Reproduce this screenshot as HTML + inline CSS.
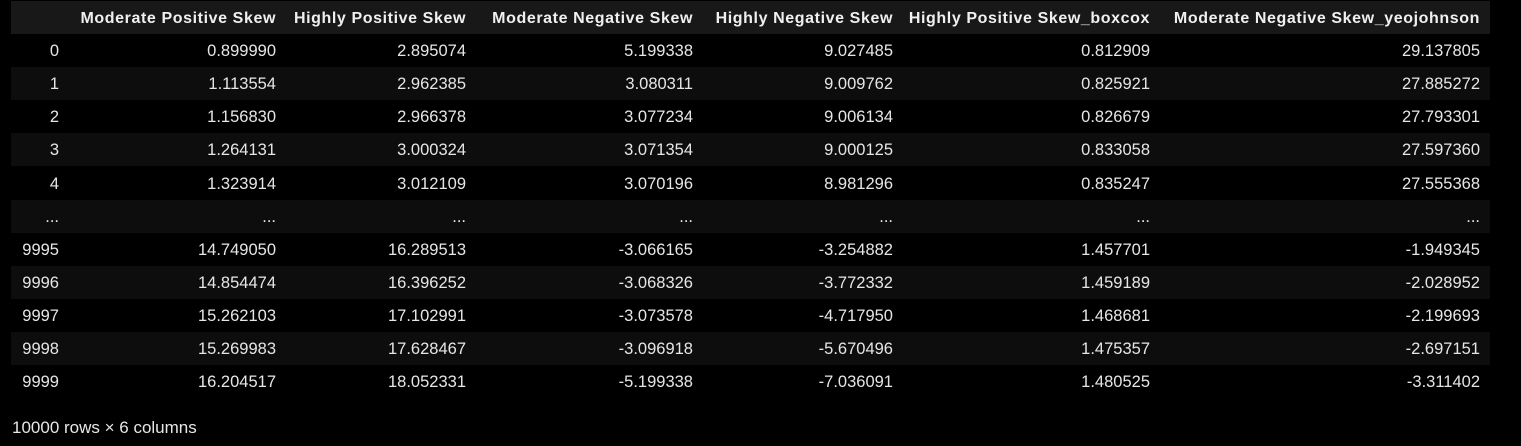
<!DOCTYPE html>
<html><head><meta charset="utf-8"><style>
html,body{margin:0;padding:0;background:#000;width:1521px;height:446px;overflow:hidden}
body{font-family:"Liberation Sans",sans-serif;color:#e6e6e6;font-size:16.5px}
table{position:absolute;left:11px;top:1px;border-collapse:collapse;table-layout:fixed}
td,th{height:33.1px;padding:2px 10px 0 0;text-align:right;white-space:nowrap;box-sizing:border-box}
th{font-weight:bold;color:#f0f0f0;font-size:16px;letter-spacing:0.6px}
thead tr{background:#181818}
tbody tr:nth-child(even){background:#0d0d0d}
#foot{position:absolute;left:12px;top:418px;font-size:17px;color:#e6e6e6}
</style></head><body>
<table>
<colgroup><col style="width:58px"><col style="width:217px"><col style="width:190px"><col style="width:227px"><col style="width:200px"><col style="width:257px"><col style="width:330px"></colgroup>
<thead><tr><th></th><th>Moderate Positive Skew</th><th>Highly Positive Skew</th><th>Moderate Negative Skew</th><th>Highly Negative Skew</th><th>Highly Positive Skew_boxcox</th><th>Moderate Negative Skew_yeojohnson</th></tr></thead>
<tbody>
<tr><td>0</td><td>0.899990</td><td>2.895074</td><td>5.199338</td><td>9.027485</td><td>0.812909</td><td>29.137805</td></tr>
<tr><td>1</td><td>1.113554</td><td>2.962385</td><td>3.080311</td><td>9.009762</td><td>0.825921</td><td>27.885272</td></tr>
<tr><td>2</td><td>1.156830</td><td>2.966378</td><td>3.077234</td><td>9.006134</td><td>0.826679</td><td>27.793301</td></tr>
<tr><td>3</td><td>1.264131</td><td>3.000324</td><td>3.071354</td><td>9.000125</td><td>0.833058</td><td>27.597360</td></tr>
<tr><td>4</td><td>1.323914</td><td>3.012109</td><td>3.070196</td><td>8.981296</td><td>0.835247</td><td>27.555368</td></tr>
<tr><td>...</td><td>...</td><td>...</td><td>...</td><td>...</td><td>...</td><td>...</td></tr>
<tr><td>9995</td><td>14.749050</td><td>16.289513</td><td>-3.066165</td><td>-3.254882</td><td>1.457701</td><td>-1.949345</td></tr>
<tr><td>9996</td><td>14.854474</td><td>16.396252</td><td>-3.068326</td><td>-3.772332</td><td>1.459189</td><td>-2.028952</td></tr>
<tr><td>9997</td><td>15.262103</td><td>17.102991</td><td>-3.073578</td><td>-4.717950</td><td>1.468681</td><td>-2.199693</td></tr>
<tr><td>9998</td><td>15.269983</td><td>17.628467</td><td>-3.096918</td><td>-5.670496</td><td>1.475357</td><td>-2.697151</td></tr>
<tr><td>9999</td><td>16.204517</td><td>18.052331</td><td>-5.199338</td><td>-7.036091</td><td>1.480525</td><td>-3.311402</td></tr>
</tbody></table>
<div id="foot">10000 rows × 6 columns</div>
</body></html>
